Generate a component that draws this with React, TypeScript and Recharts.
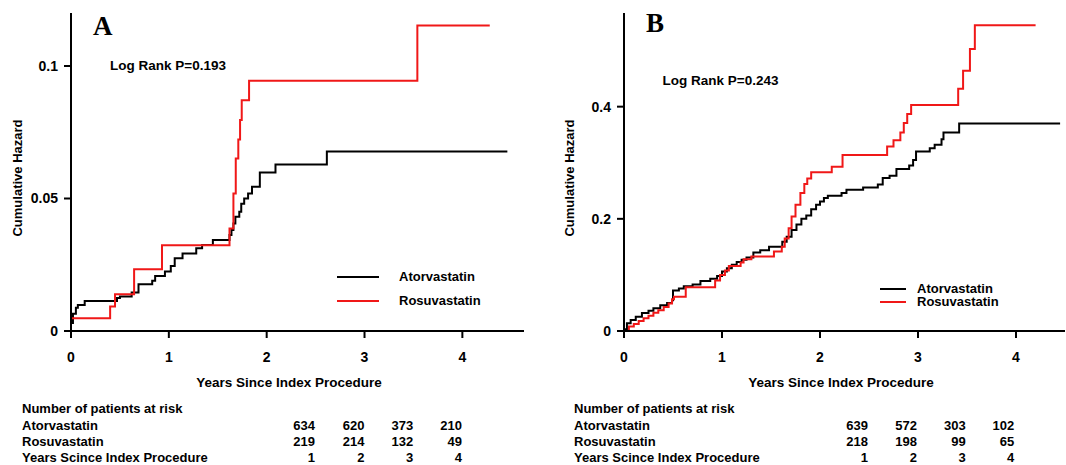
import React from "react";
import { LineChart, Line, XAxis, YAxis, Legend } from "recharts";

// time (years) and cumulative hazard
const atorTimeA = [0, 0.02, 0.05, 0.07, 0.14, 0.47, 0.5, 0.62, 0.69, 0.83, 0.86, 0.96, 1.02, 1.06, 1.14, 1.28, 1.34, 1.45, 1.62, 1.64, 1.66, 1.68, 1.72, 1.74, 1.77, 1.81, 1.85, 1.93, 2.09, 2.615, 4.46];
const atorHazA = [0.003, 0.0065, 0.0088, 0.0098, 0.0113, 0.0125, 0.013, 0.0145, 0.0176, 0.019, 0.0208, 0.0225, 0.0245, 0.0275, 0.0292, 0.0312, 0.0325, 0.0343, 0.0362, 0.0381, 0.0406, 0.0431, 0.045, 0.048, 0.05, 0.0519, 0.0544, 0.0598, 0.0628, 0.0677, 0.0677];
const rosuTimeA = [0, 0.4, 0.45, 0.645, 0.93, 1.62, 1.66, 1.684, 1.71, 1.728, 1.745, 1.82, 3.54, 4.28];
const rosuHazA = [0.0048, 0.0092, 0.0139, 0.0233, 0.0324, 0.0387, 0.0519, 0.0651, 0.0723, 0.0796, 0.0871, 0.0944, 0.1153, 0.1153];

const atorTimeB = [0, 0.03, 0.068, 0.12, 0.183, 0.25, 0.3, 0.37, 0.44, 0.49, 0.5, 0.56, 0.61, 0.7, 0.78, 0.88, 0.95, 1.0, 1.05, 1.1, 1.15, 1.2, 1.25, 1.32, 1.39, 1.48, 1.615, 1.66, 1.71, 1.76, 1.81, 1.86, 1.91, 1.96, 2.0, 2.04, 2.08, 2.22, 2.27, 2.44, 2.59, 2.64, 2.71, 2.78, 2.91, 2.95, 2.98, 3.12, 3.17, 3.24, 3.26, 3.42, 4.45];
const atorHazB = [0.003, 0.014, 0.0196, 0.0256, 0.032, 0.036, 0.0405, 0.046, 0.05, 0.055, 0.072, 0.076, 0.08, 0.083, 0.089, 0.093, 0.098, 0.106, 0.112, 0.118, 0.123, 0.127, 0.131, 0.14, 0.144, 0.15, 0.159, 0.168, 0.18, 0.19, 0.2, 0.206, 0.217, 0.225, 0.231, 0.237, 0.241, 0.246, 0.252, 0.256, 0.261, 0.273, 0.277, 0.289, 0.295, 0.305, 0.32, 0.326, 0.332, 0.342, 0.354, 0.37, 0.37];
const rosuTimeB = [0, 0.05, 0.1, 0.15, 0.2, 0.25, 0.3, 0.35, 0.405, 0.455, 0.49, 0.51, 0.63, 0.93, 0.98, 1.03, 1.07, 1.19, 1.22, 1.3, 1.53, 1.61, 1.64, 1.68, 1.71, 1.75, 1.8, 1.84, 1.87, 1.91, 2.12, 2.23, 2.685, 2.75, 2.82, 2.855, 2.89, 2.93, 3.41, 3.46, 3.53, 3.58, 4.2];
const rosuHazB = [0, 0.008, 0.0125, 0.018, 0.0226, 0.027, 0.0325, 0.037, 0.043, 0.049, 0.0565, 0.061, 0.078, 0.09, 0.1, 0.108, 0.116, 0.122, 0.128, 0.133, 0.1417, 0.15, 0.165, 0.183, 0.204, 0.225, 0.246, 0.262, 0.272, 0.283, 0.293, 0.314, 0.329, 0.34, 0.354, 0.371, 0.387, 0.403, 0.432, 0.464, 0.503, 0.545, 0.545];

const yearTicks = [0, 1, 2, 3, 4];
const hazardTicksA = [0, 0.05, 0.1];
const hazardTicksB = [0, 0.2, 0.4];

const riskYears = [1, 2, 3, 4];
const riskAtorA = [634, 620, 373, 210];
const riskRosuA = [219, 214, 132, 49];
const riskAtorB = [639, 572, 303, 102];
const riskRosuB = [218, 198, 99, 65];

const logRankA = "Log Rank P=0.193";
const logRankB = "Log Rank P=0.243";
const yLabel = "Cumulative Hazard";
const xLabel = "Years Since Index Procedure";
const riskTitle = "Number of patients at risk";
const riskYearLabel = "Years Scince Index Procedure";

const RED = "#f01818";
const SANS = "'Liberation Sans', Arial, sans-serif";
const SERIF = "'Liberation Serif', 'Times New Roman', serif";

const toSteps = (t: number[], h: number[]) => t.map((x, i) => ({ t: x, h: h[i] }));

const axisStroke = { stroke: "#000", strokeWidth: 2 };
const tickStyle = { fill: "#000", fontSize: 14, fontWeight: "bold", fontFamily: SANS };

const renderLegend =
  (lineLen: number, gap: number, rowGap: number) =>
  (props: any) => {
    const items = props.payload || [];
    return (
      <div style={{ position: "relative" }}>
        {items.map((it: any, i: number) => (
          <div
            key={it.value}
            style={{
              position: "absolute",
              top: i * rowGap,
              left: 0,
              height: 16,
              display: "flex",
              alignItems: "center",
              whiteSpace: "nowrap",
            }}
          >
            <span
              style={{
                display: "inline-block",
                width: lineLen,
                height: 0,
                borderTop: `2.5px solid ${it.color}`,
              }}
            />
            <span
              style={{
                marginLeft: gap,
                fontFamily: SANS,
                fontWeight: "bold",
                fontSize: 13,
                color: "#000",
                lineHeight: "16px",
              }}
            >
              {it.value}
            </span>
          </div>
        ))}
      </div>
    );
  };

interface PanelProps {
  left: number;
  width: number;
  marginLeft: number;
  marginRight: number;
  xMax: number;
  yMax: number;
  yTicks: number[];
  ator: { t: number; h: number }[];
  rosu: { t: number; h: number }[];
  legendLeft: number;
  legendTop: number;
  legendLine: number;
  legendGap: number;
  legendRow: number;
}

const Panel = (p: PanelProps) => (
  <div style={{ position: "absolute", left: p.left, top: 0 }}>
    <LineChart
      width={p.width}
      height={465}
      margin={{ top: 13, right: p.marginRight, bottom: 74, left: p.marginLeft }}
    >
      <XAxis
        type="number"
        dataKey="t"
        domain={[0, p.xMax]}
        ticks={yearTicks}
        height={60}
        tickSize={7}
        tickMargin={14}
        axisLine={axisStroke}
        tickLine={axisStroke}
        tick={tickStyle}
      />
      <YAxis
        type="number"
        domain={[0, p.yMax]}
        ticks={p.yTicks}
        width={60}
        tickSize={7}
        tickMargin={6}
        axisLine={axisStroke}
        tickLine={axisStroke}
        tick={tickStyle}
      />
      <Legend
        layout="vertical"
        align="center"
        verticalAlign="middle"
        wrapperStyle={{ left: p.legendLeft, top: p.legendTop, width: 170, height: 40 }}
        content={renderLegend(p.legendLine, p.legendGap, p.legendRow)}
      />
      <Line
        data={p.ator}
        dataKey="h"
        name="Atorvastatin"
        type="stepAfter"
        stroke="#000"
        strokeWidth={2}
        dot={false}
        isAnimationActive={false}
      />
      <Line
        data={p.rosu}
        dataKey="h"
        name="Rosuvastatin"
        type="stepAfter"
        stroke={RED}
        strokeWidth={2}
        dot={false}
        isAnimationActive={false}
      />
    </LineChart>
  </div>
);

const RiskTable = ({
  x,
  cols,
  ator,
  rosu,
}: {
  x: number;
  cols: number[];
  ator: number[];
  rosu: number[];
}) => {
  const rows: [string, number[] | null][] = [
    [riskTitle, null],
    ["Atorvastatin", ator],
    ["Rosuvastatin", rosu],
    [riskYearLabel, riskYears],
  ];
  const baselines = [413.2, 429.8, 446, 461.8];
  return (
    <g fontFamily={SANS} fontWeight="bold" fontSize={13} fill="#000">
      {rows.map(([label, vals], r) => (
        <g key={label}>
          <text x={x} y={baselines[r]}>
            {label}
          </text>
          {vals &&
            vals.map((v, c) => (
              <text key={c} x={cols[c]} y={baselines[r]} textAnchor="end">
                {v}
              </text>
            ))}
        </g>
      ))}
    </g>
  );
};

export default function App() {
  return (
    <div
      style={{
        position: "absolute",
        left: 0,
        top: 0,
        width: 1066,
        height: 465,
        background: "#fff",
        overflow: "hidden",
      }}
    >
      <Panel
        left={0}
        width={530}
        marginLeft={11}
        marginRight={6}
        xMax={4.63}
        yMax={0.12}
        yTicks={hazardTicksA}
        ator={toSteps(atorTimeA, atorHazA)}
        rosu={toSteps(rosuTimeA, rosuHazA)}
        legendLeft={337}
        legendTop={269}
        legendLine={42}
        legendGap={20}
        legendRow={24.4}
      />
      <Panel
        left={530}
        width={536}
        marginLeft={34}
        marginRight={1}
        xMax={4.5}
        yMax={0.567}
        yTicks={hazardTicksB}
        ator={toSteps(atorTimeB, atorHazB)}
        rosu={toSteps(rosuTimeB, rosuHazB)}
        legendLeft={350}
        legendTop={281}
        legendLine={26}
        legendGap={11}
        legendRow={13.4}
      />
      <svg
        width={1066}
        height={465}
        style={{ position: "absolute", left: 0, top: 0, pointerEvents: "none" }}
      >
        <text x={93} y={35} fontFamily={SERIF} fontWeight="bold" fontSize={27}>
          A
        </text>
        <text x={646} y={31.7} fontFamily={SERIF} fontWeight="bold" fontSize={27}>
          B
        </text>
        <g fontFamily={SANS} fontWeight="bold" fontSize={13.5} fill="#000">
          <text x={110} y={70}>
            {logRankA}
          </text>
          <text x={662.5} y={84.5}>
            {logRankB}
          </text>
          <text x={289} y={386.5} textAnchor="middle">
            {xLabel}
          </text>
          <text x={841} y={386.5} textAnchor="middle">
            {xLabel}
          </text>
        </g>
        <g fontFamily={SANS} fontWeight="bold" fontSize={13} fill="#000">
          <text
            x={17}
            y={178}
            textAnchor="middle"
            dominantBaseline="central"
            transform="rotate(-90 17 178)"
          >
            {yLabel}
          </text>
          <text
            x={569}
            y={178}
            textAnchor="middle"
            dominantBaseline="central"
            transform="rotate(-90 569 178)"
          >
            {yLabel}
          </text>
        </g>
        <RiskTable x={22} cols={[315, 364.5, 413.3, 462]} ator={riskAtorA} rosu={riskRosuA} />
        <RiskTable x={574} cols={[868, 917, 965.7, 1014.3]} ator={riskAtorB} rosu={riskRosuB} />
      </svg>
    </div>
  );
}
